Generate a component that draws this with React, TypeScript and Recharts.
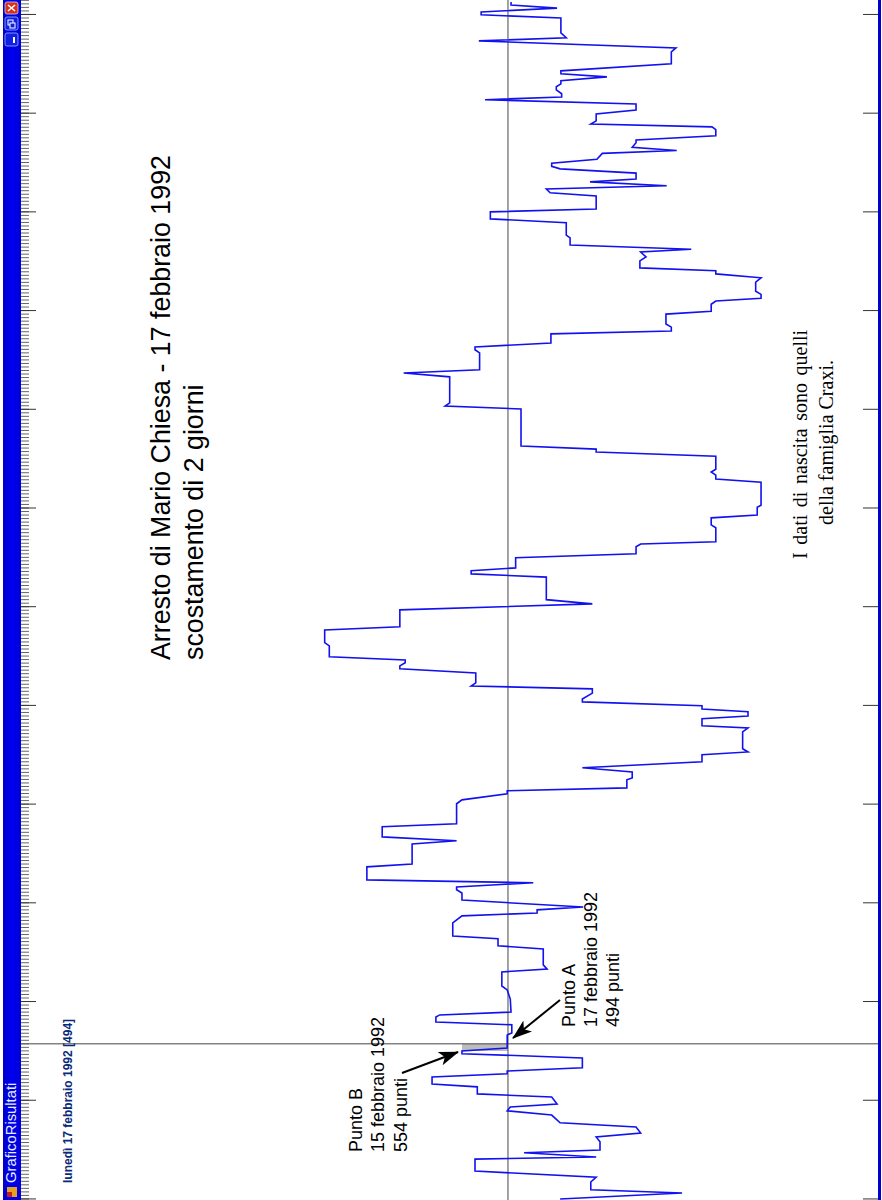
import { LineChart, Line, XAxis, YAxis, ReferenceLine, ReferenceArea } from 'recharts'

// giorni rispetto al 17 febbraio 1992 (0 = Punto A)
const giorni = [
    -44, -42.3, -41.4, -39.2, -37.8, -36.1, -32.7, -32.1, -30.9, -30.1, -27.8, -26.4, -25.3, -23.6, -22.4, -20.2, -19, -17.9, -17.1, -15.1,
    -14.2, -12.2, -11.4, -9.4, -8.5, -7.7, -6.8, -4, -2.8, -2, -1.2, 2.5, 3.1, 5.4, 6.2, 7.6, 8.2, 9, 12.7, 15.3,
    16.4, 20.4, 21.2, 22.4, 26.9, 27.8, 29.8, 30.6, 34.3, 36.3, 37.1, 38, 38.8, 40.8, 42.8, 43.7, 44.5, 45.7, 46.5, 50.2,
    51, 56.7, 57.6, 58.7, 61.6, 62.4, 68.1, 69.2, 70.9, 71.8, 72.6, 74.9, 75.4, 77.1, 78.3, 80, 82, 82.8, 83.7, 88.5,
    89.6, 90.2, 92.2, 93, 94.2, 95, 95.9, 97, 97.8, 99.5, 100.7, 101.5, 102.4, 105.2, 106.4, 107.2, 108.1, 108.9, 109.8, 112.9,
    113.8, 117.4, 118.3, 123.1, 124.8, 126, 132.4, 133.3, 134.2, 135, 137.9, 139, 141, 141.8, 142.4, 146.4, 147.2, 149.2, 150, 152.2,
    152.8, 159.3, 160.2, 161.3, 162.2, 163, 166.7, 167.9, 168.7, 169.6, 180.1, 180.9, 181.8, 189.2, 190.3, 191.2, 196, 196.9, 197.7, 198.8,
    201.4, 202.2, 203.3, 204.2, 207, 207.8, 209.8, 210.7, 211.5, 212.6, 213.5, 216.1, 217.3, 218.4, 219.3, 220.1, 222.1, 223.2, 224.6, 225.4,
    226.6, 228.6, 229.4, 232.9, 234, 236, 236.8, 240.5, 241.4, 242.5, 243.4, 244.5, 245.3, 247, 248.2, 248.9, 249.8, 250.9, 252.6, 253.4,
    254.3, 255.6, 256.4, 257.6, 259.3, 260.1, 260.9, 261.8, 263.8, 264.9, 266.6, 267.8, 268.6, 269.5, 270.6, 271.5, 272.3, 273.2, 274.3, 275.2,
    276, 278, 281.4, 282.5, 284.5, 285.4, 286.8, 291, 291.9, 292.7, 293.8, 294.7, 295.5,
]

const punti = [
    426, 267, 386, 386, 379, 537, 537, 379, 473, 374, 374, 379, 321, 327, 426, 437, 495, 491, 430, 437,
    534, 534, 593, 593, 495, 495, 397, 397, 554, 554, 495, 495, 489, 489, 588, 588, 583, 490, 491, 495,
    502, 502, 443, 448, 448, 507, 507, 566, 566, 554, 456, 456, 396, 554, 554, 561, 561, 461, 678, 678,
    619, 619, 561, 658, 658, 561, 561, 554, 495, 495, 339, 339, 332, 332, 397, 241, 241, 181, 188, 188,
    181, 241, 241, 181, 181, 241, 241, 397, 397, 384, 384, 542, 536, 536, 635, 635, 628, 628, 727, 727,
    733, 733, 635, 635, 384, 444, 444, 542, 542, 484, 484, 327, 327, 321, 223, 223, 229, 229, 169, 169,
    164, 164, 223, 223, 229, 223, 223, 379, 379, 477, 477, 576, 570, 570, 630, 531, 531, 537, 537, 438,
    438, 281, 281, 288, 288, 229, 229, 223, 164, 164, 171, 171, 164, 223, 223, 322, 322, 314, 321, 255,
    413, 413, 418, 418, 517, 517, 379, 379, 439, 444, 287, 387, 327, 327, 426, 437, 437, 378, 371, 274,
    332, 327, 327, 223, 223, 228, 386, 379, 379, 327, 327, 524, 424, 424, 431, 431, 425, 425, 365, 425,
    425, 281, 281, 275, 532, 418, 425, 425, 529, 529, 430, 490, 490,
]

const tacchePrincipali = [-44, -16, 12, 40, 68, 96, 124, 152, 180, 208, 236, 264, 292]
const taccheGiorni = Array.from({ length: 341 }, (_, i) => i - 44)

const PUNTO_A = 494
const PUNTO_B = 554

const data = giorni.map((giorno, i) => ({ giorno, punti: punti[i] }))

const sans = "'Liberation Sans', Arial, sans-serif"
const serif = "'Liberation Serif', 'Times New Roman', serif"

function Testo({ x, y, size, children, family = sans, fill = '#000', weight = 400, wordSpacing = 0 }: any) {
    return (
        <text x={x} y={y} transform={`rotate(-90 ${x} ${y})`} fontFamily={family} fontSize={size} fill={fill} fontWeight={weight} wordSpacing={wordSpacing}>
            {children}
        </text>
    )
}

function Overlay() {
    return (
        <svg width={882} height={1200} style={{ position: 'absolute', left: 0, top: 0, pointerEvents: 'none' }}>
            <defs>
                <linearGradient id="barra" x1="0" x2="1" y1="0" y2="0">
                    <stop offset="0" stopColor="#0000c8" />
                    <stop offset="0.45" stopColor="#0000f0" />
                    <stop offset="1" stopColor="#0000d8" />
                </linearGradient>
                <marker id="freccia" markerWidth="20" markerHeight="14" refX="19" refY="7" orient="auto" markerUnits="userSpaceOnUse">
                    <path d="M0,0 L20,7 L0,14 L5,7 Z" fill="#000" />
                </marker>
            </defs>
            <rect x={3} y={0} width={18} height={1200} fill="url(#barra)" />
            <rect x={878} y={0} width={3} height={1200} fill="#0000d0" />
            <rect x={5} y={2} width={13} height={12} rx={2} fill="#d8301c" stroke="#c8d0f0" strokeWidth={0.8} />
            <path d="M8,5 L15,11 M15,5 L8,11" stroke="#fff" strokeWidth={1.6} />
            <rect x={5} y={17} width={13} height={13} rx={2} fill="#1020e0" stroke="#a0b0f0" strokeWidth={0.8} />
            <rect x={8} y={20} width={5} height={5} fill="none" stroke="#fff" strokeWidth={1} />
            <rect x={10} y={23} width={5} height={5} fill="#1020e0" stroke="#fff" strokeWidth={1} />
            <rect x={5} y={33} width={13} height={13} rx={2} fill="#1020e0" stroke="#a0b0f0" strokeWidth={0.8} />
            <rect x={13} y={37} width={2} height={6} fill="#fff" />
            <rect x={7} y={1187} width={10} height={10} fill="#e8a020" />
            <rect x={7} y={1192} width={5} height={5} fill="#c02020" />
            <Testo x={16} y={1183} size={14.8} fill="#e8ecff">GraficoRisultati</Testo>
            <Testo x={72} y={1183} size={12} fill="#0a2a78" weight={700}>lunedì 17 febbraio 1992 [494]</Testo>

            <Testo x={170} y={660} size={26.8}>Arresto di Mario Chiesa - 17 febbraio 1992</Testo>
            <Testo x={203} y={660} size={26.8}>scostamento di 2 giorni</Testo>

            <Testo x={362} y={1152} size={18}>Punto B</Testo>
            <Testo x={384} y={1152} size={18}>15 febbraio 1992</Testo>
            <Testo x={407} y={1152} size={18}>554 punti</Testo>
            <line x1={402} y1={1073} x2={458} y2={1052} stroke="#000" strokeWidth={2} markerEnd="url(#freccia)" />

            <Testo x={575} y={1027} size={18}>Punto A</Testo>
            <Testo x={597} y={1027} size={18}>17 febbraio 1992</Testo>
            <Testo x={619} y={1027} size={18}>494 punti</Testo>
            <line x1={560} y1={1000} x2={513} y2={1038} stroke="#000" strokeWidth={2} markerEnd="url(#freccia)" />

            <Testo x={807} y={559} size={20} family={serif} wordSpacing={2.6}>I dati di nascita sono quelli</Testo>
            <Testo x={833} y={525} size={20} family={serif}>della famiglia Craxi.</Testo>
        </svg>
    )
}

export default function App() {
    return (
        <div style={{ position: 'absolute', left: 0, top: 0, width: 882, height: 1200, background: '#fff', overflow: 'hidden' }}>
            <LineChart width={882} height={1200} data={data} layout="vertical" margin={{ top: 0, right: 4, bottom: 0, left: 21 }}>
                <XAxis type="number" dataKey="punti" domain={[11.5, 1129]} reversed hide allowDataOverflow />
                <YAxis yAxisId="giorni" type="number" dataKey="giorno" domain={[-44.3, 296.1]} reversed allowDataOverflow width={0.01} mirror
                    ticks={taccheGiorni} interval={0} tickSize={8} axisLine={false} tickFormatter={() => ''} tickLine={{ stroke: '#666', strokeWidth: 1 }} />
                <YAxis yAxisId="principali" type="number" dataKey="giorno" domain={[-44.3, 296.1]} reversed allowDataOverflow width={0.01} mirror
                    ticks={tacchePrincipali} interval={0} tickSize={15} axisLine={false} tickFormatter={() => ''} tickLine={{ stroke: '#333', strokeWidth: 1 }} />
                <YAxis yAxisId="destra" orientation="right" type="number" dataKey="giorno" domain={[-44.3, 296.1]} reversed allowDataOverflow width={0.01} mirror
                    ticks={tacchePrincipali} interval={0} tickSize={15} axisLine={false} tickFormatter={() => ''} tickLine={{ stroke: '#333', strokeWidth: 1 }} />
                <ReferenceArea yAxisId="giorni" x1={PUNTO_A} x2={PUNTO_B} y1={-2} y2={0} fill="#bdbdbd" fillOpacity={1} stroke="none" />
                <ReferenceLine yAxisId="giorni" x={PUNTO_A} stroke="#666" strokeWidth={1.2} />
                <ReferenceLine yAxisId="giorni" y={0} stroke="#444" strokeWidth={1} />
                <Line yAxisId="giorni" type="linear" dataKey="punti" stroke="#1212f0" strokeWidth={1.6} dot={false} isAnimationActive={false} />
            </LineChart>
            <Overlay />
        </div>
    )
}
